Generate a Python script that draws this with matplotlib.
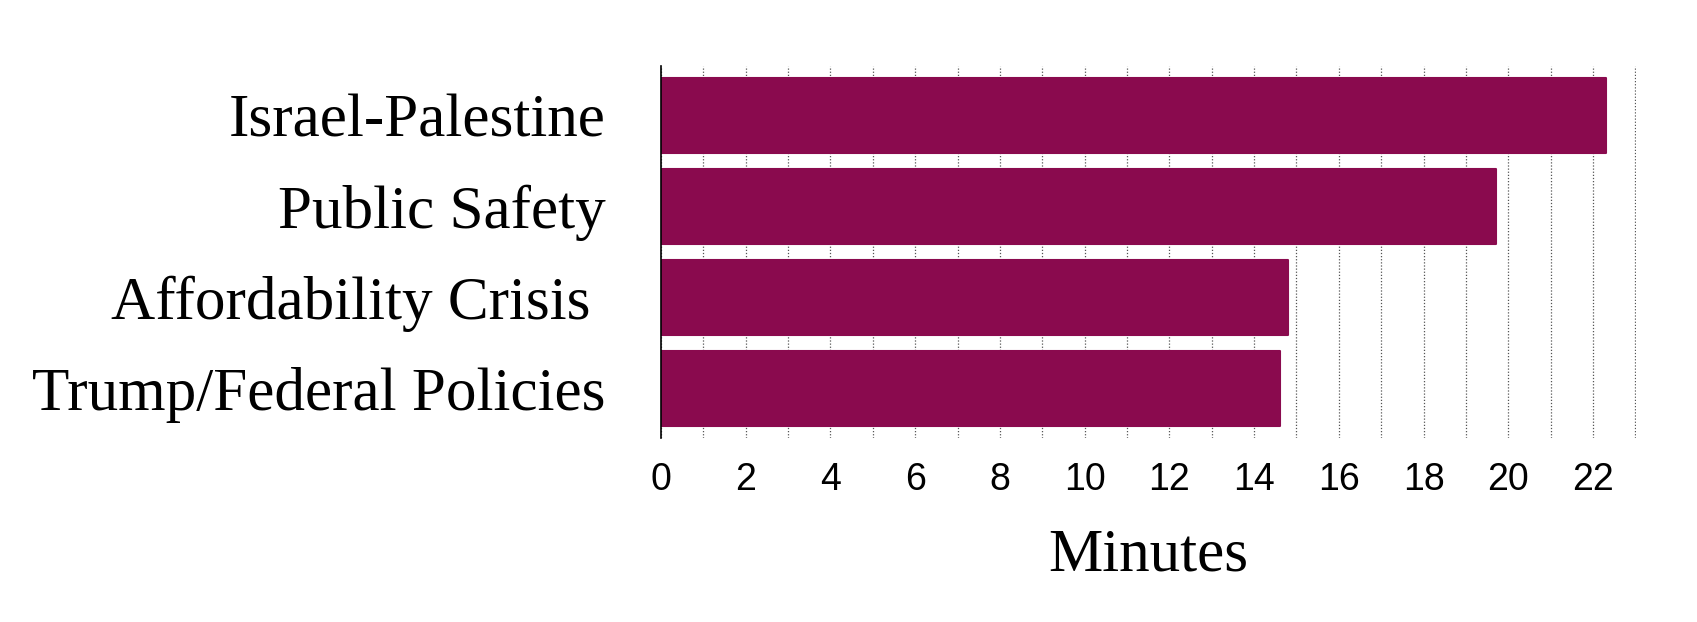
import matplotlib
matplotlib.use("Agg")
import matplotlib.pyplot as plt

# minutes spent per topic
topics = ["Israel-Palestine", "Public Safety", "Affordability Crisis ", "Trump/Federal Policies"]
minutes = [22.3, 19.7, 14.8, 14.6]
major_ticks = list(range(0, 23, 2))
minor_ticks = list(range(0, 24, 1))

bar_color = "#8a0a4e"

fig = plt.figure(figsize=(16.97, 6.22), dpi=100)
ax = fig.add_axes([0.3895, 0.2953, 0.9642 - 0.3895, 0.8944 - 0.2953])

ypos = list(range(len(topics)))
ax.barh(ypos, minutes, height=0.82, color=bar_color, edgecolor=bar_color,
        linewidth=1.5, joinstyle="round", zorder=3)

ax.set_ylim(len(topics) - 0.45, -0.55)
ax.set_xlim(0, 23.02)

ax.set_yticks(ypos)
ax.set_yticklabels(topics, family="Liberation Serif", fontsize=44)
ax.set_xticks(major_ticks)
ax.set_xticklabels([str(t) for t in major_ticks], family="Liberation Sans", fontsize=27)
ax.set_xticks(minor_ticks, minor=True)

ax.tick_params(axis="y", length=0, pad=40)
ax.tick_params(axis="x", which="both", length=0, pad=17)

ax.grid(axis="x", which="both", linestyle=(0, (1, 1.5)), color="#555555", linewidth=0.9, zorder=0)

for side in ["top", "right", "bottom"]:
    ax.spines[side].set_visible(False)
ax.spines["left"].set_color("black")
ax.spines["left"].set_linewidth(1.2)
ax.spines["left"].set_zorder(4)

ax.set_xlabel("Minutes", family="Liberation Serif", fontsize=44, labelpad=22)

fig.savefig("out.png", dpi=100)
